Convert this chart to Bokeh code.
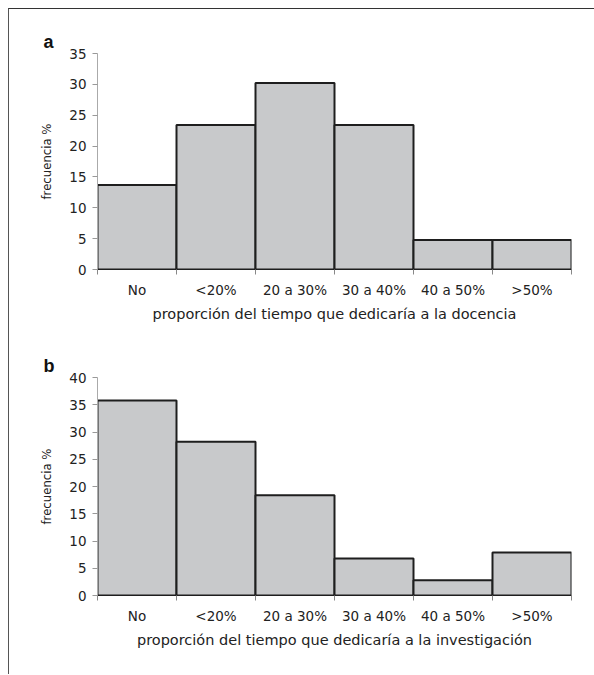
from bokeh.plotting import figure
from bokeh.models import FixedTicker, Title, ColumnDataSource
from bokeh.layouts import column
from bokeh.embed import file_html
from bokeh.resources import INLINE

categories = ["No", "<20%", "20 a 30%", "30 a 40%", "40 a 50%", ">50%"]
docencia = [13.7, 23.4, 30.2, 23.4, 4.8, 4.8]
investigacion = [35.8, 28.2, 18.4, 6.8, 2.8, 7.9]
xlabel_a = "proporción del tiempo que dedicaría a la docencia"
xlabel_b = "proporción del tiempo que dedicaría a la investigación"
ylabel = "frecuencia %"

TICK_FONT = "DejaVu Sans"
NARROW_FONT = "DejaVu Sans Condensed, Liberation Sans, sans-serif"


def make_panel(vals, ymax, xlabel, letter, height, top, bottom):
    p = figure(width=585, height=height, x_range=(0, 6), y_range=(0, ymax),
               output_backend="svg", toolbar_location=None,
               min_border_left=88, min_border_right=23,
               min_border_top=top, min_border_bottom=bottom)
    p.outline_line_color = None
    p.grid.visible = False
    p.background_fill_color = "white"
    p.border_fill_color = "white"
    n = len(vals)
    src = ColumnDataSource(dict(left=list(range(n)), right=[i + 1 for i in range(n)],
                                top=vals, bottom=[0] * n))
    p.quad(left="left", right="right", top="top", bottom="bottom", source=src,
           fill_color="#c8c9cb", line_color="#1e1e1e", line_width=2)

    # x axis
    centers = [i + 0.5 for i in range(n)]
    p.xaxis.ticker = FixedTicker(ticks=centers, minor_ticks=list(range(n + 1)))
    p.xaxis.major_label_overrides = {c: lab for c, lab in zip(centers, categories)}
    p.xaxis.major_tick_line_color = None
    p.xaxis.major_tick_out = 0
    p.xaxis.major_tick_in = 0
    p.xaxis.minor_tick_out = 5
    p.xaxis.minor_tick_in = 0
    p.xaxis.minor_tick_line_color = "#888888"
    p.xaxis.axis_line_color = "#1e1e1e"
    p.xaxis.major_label_standoff = 7
    p.xaxis.major_label_text_font = TICK_FONT
    p.xaxis.major_label_text_font_size = "13.5px"
    p.xaxis.major_label_text_color = "#222222"
    p.xaxis.axis_label = xlabel
    p.xaxis.axis_label_text_font = TICK_FONT
    p.xaxis.axis_label_text_font_size = "14.5px"
    p.xaxis.axis_label_text_font_style = "normal"
    p.xaxis.axis_label_text_color = "#222222"
    p.xaxis.axis_label_standoff = 5

    # y axis
    p.yaxis.ticker = FixedTicker(ticks=list(range(0, ymax + 1, 5)), minor_ticks=[])
    p.yaxis.major_tick_out = 5
    p.yaxis.major_tick_in = 0
    p.yaxis.major_tick_line_color = "#999999"
    p.yaxis.axis_line_color = "#aaaaaa"
    p.yaxis.major_label_standoff = 6
    p.yaxis.major_label_text_font = TICK_FONT
    p.yaxis.major_label_text_font_size = "13.5px"
    p.yaxis.major_label_text_color = "#222222"
    p.yaxis.axis_label = ylabel
    p.yaxis.axis_label_text_font = NARROW_FONT
    p.yaxis.axis_label_text_font_size = "13px"
    p.yaxis.axis_label_text_font_style = "normal"
    p.yaxis.axis_label_text_color = "#222222"
    p.yaxis.axis_label_standoff = 12

    t = Title(text=letter, align="left", offset=-54, standoff=3,
              text_font="Liberation Sans", text_font_style="bold",
              text_font_size="18px", text_color="#111111")
    p.add_layout(t, "above")
    return p


pa = make_panel(docencia, 35, xlabel_a, "a", 335, 44, 75)
pb = make_panel(investigacion, 40, xlabel_b, "b", 330, 33, 79)

layout = column(pa, pb, spacing=0,
                styles={"border-top": "1px solid #333333",
                        "border-left": "1px solid #555555",
                        "margin-top": "8px", "margin-left": "8px"})

open("out.html", "w").write(file_html(layout, INLINE))
